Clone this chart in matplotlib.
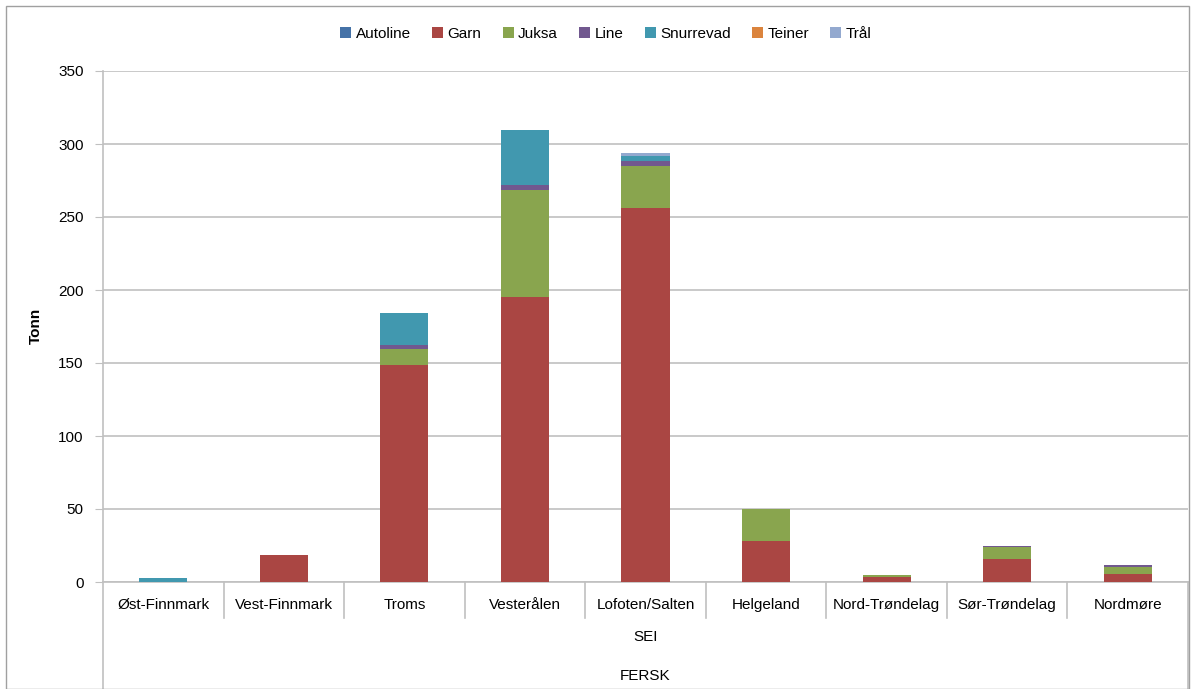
import matplotlib
matplotlib.use("Agg")
import matplotlib.pyplot as plt
from matplotlib.patches import Rectangle
from matplotlib.lines import Line2D
import numpy as np

plt.rcParams['font.family'] = ['Liberation Sans', 'DejaVu Sans']

categories = ["Øst-Finnmark", "Vest-Finnmark", "Troms", "Vesterålen", "Lofoten/Salten",
              "Helgeland", "Nord-Trøndelag", "Sør-Trøndelag", "Nordmøre"]
series_names = ["Autoline", "Garn", "Juksa", "Line", "Snurrevad", "Teiner", "Trål"]
autoline  = [0, 0, 0, 0, 0, 0, 0, 0, 0]
garn      = [0, 18.5, 148.6, 195.2, 256.2, 28.1, 3.4, 15.8, 5.5]
juksa     = [0, 0, 11.0, 73.3, 28.7, 21.9, 1.1, 8.2, 4.8]
line      = [0, 0, 2.7, 3.4, 3.5, 0.3, 0, 0.7, 1.3]
snurrevad = [2.5, 0, 22.0, 37.7, 3.4, 0, 0, 0, 0]
teiner    = [0, 0, 0, 0, 0, 0, 0, 0, 0.3]
traal     = [0, 0, 0, 0, 1.7, 0, 0, 0, 0]
colors = ["#4572A7", "#AA4643", "#89A54E", "#71588F", "#4198AF", "#DB843D", "#93A9CF"]
level2 = "SEI"
level3 = "FERSK"
yticks = [0, 50, 100, 150, 200, 250, 300, 350]

fig = plt.figure(figsize=(11.92, 6.89), dpi=100)
W, H = 1192, 689
ax = fig.add_axes([103 / W, 1 - 582 / H, (1188 - 103) / W, (582 - 71) / H])

x = np.arange(len(categories))
data = [autoline, garn, juksa, line, snurrevad, teiner, traal]
bottom = np.zeros(len(categories))
for name, vals, c in zip(series_names, data, colors):
    vals = np.array(vals, dtype=float)
    ax.bar(x, vals, width=0.4, bottom=bottom, color=c, label=name, zorder=3)
    bottom += vals

ax.set_xlim(-0.5, len(categories) - 0.5)
ax.set_ylim(0, 350)
ax.set_yticks(yticks)
ax.set_yticklabels([str(t) for t in yticks], fontsize=11)
ax.yaxis.grid(True, color="#c0c0c0", linewidth=1.2, zorder=0)
ax.set_axisbelow(True)
for s in ["top", "right"]:
    ax.spines[s].set_visible(False)
ax.spines["left"].set_color("#c0c0c0")
ax.spines["bottom"].set_color("#c0c0c0")
ax.spines["left"].set_linewidth(1.2)
ax.spines["bottom"].set_linewidth(1.2)
ax.tick_params(axis="y", length=6, color="#c0c0c0", pad=8)
ax.set_xticks([])
fig.text(36 / W, 1 - 326 / H, "Tonn", rotation=90, ha="center", va="center",
         fontsize=11, fontweight="bold")

# multi-level category axis
trans = ax.get_xaxis_transform()
for i in range(len(categories) + 1):
    xb = i - 0.5
    y0 = 0
    y1 = -(618 - 582) / (582 - 71)
    if i == 0 or i == len(categories):
        y1 = -(689 - 582) / (582 - 71)
    ax.add_line(Line2D([xb, xb], [y0, y1], transform=trans, color="#c0c0c0",
                       linewidth=1.2, clip_on=False))
for i, c in enumerate(categories):
    ax.text(i, -(605 - 582) / (582 - 71), c, transform=trans, ha="center", va="center", fontsize=11)
ax.text((len(categories) - 1) / 2, -(637 - 582) / (582 - 71), level2, transform=trans,
        ha="center", va="center", fontsize=11)
ax.text((len(categories) - 1) / 2, -(676 - 582) / (582 - 71), level3, transform=trans,
        ha="center", va="center", fontsize=11)

leg = fig.legend(loc="center", bbox_to_anchor=(606 / W, 1 - 34 / H), ncol=7, frameon=False,
                 fontsize=11, handlelength=0.7, handleheight=0.7, handletextpad=0.3,
                 columnspacing=1.4)

fig.patches.append(Rectangle((6 / W, 0), (1189 - 6) / W, 1 - 6 / H, transform=fig.transFigure,
                             fill=False, edgecolor="#a0a0a0", linewidth=1))

fig.savefig("out.png", dpi=100)
